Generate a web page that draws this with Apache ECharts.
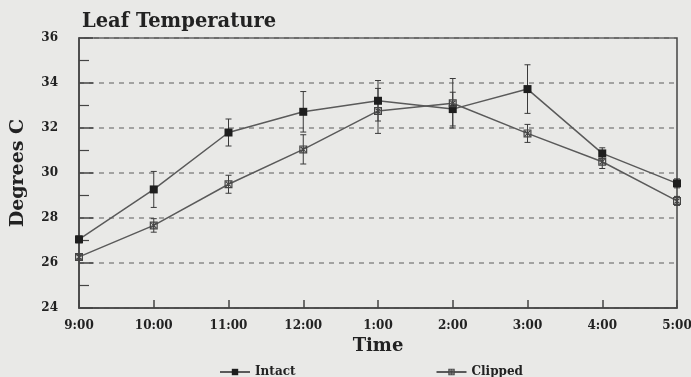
<!DOCTYPE html>
<html><head><meta charset="utf-8">
<script src="https://cdn.jsdelivr.net/npm/echarts@6/dist/echarts.min.js"></script>
<style>html,body{margin:0;padding:0;background:#e9e9e7}#c{width:691px;height:377px}</style>
</head><body><div id="c"></div>
<script>
var times = ['9:00','10:00','11:00','12:00','1:00','2:00','3:00','4:00','5:00'];
var intact = [27.05, 29.27, 31.8, 32.72, 33.21, 32.84, 33.73, 30.87, 29.54];
var intactErr = [0.15, 0.8, 0.6, 0.9, 0.9, 0.75, 1.08, 0.25, 0.2];
var clipped = [26.27, 27.67, 29.5, 31.05, 32.76, 33.1, 31.76, 30.5, 28.76];
var clippedErr = [0.1, 0.3, 0.4, 0.65, 1.0, 1.1, 0.4, 0.3, 0.2];
var yTicks = [24, 26, 28, 30, 32, 34, 36];

var FONT = '"DejaVu Serif", serif';
var clippedSym = 'path://M0 0H10V10H0Z M1.5 1.5V8.5H8.5V1.5Z M1.5 2.5L2.5 1.5L8.5 7.5L7.5 8.5Z M7.5 1.5L8.5 2.5L2.5 8.5L1.5 7.5Z M4.4 1.5H5.6V8.5H4.4Z';

function errData(vals, errs) {
  return vals.map(function (v, i) { return [i, v - errs[i], v + errs[i]]; });
}
function errRender(params, api) {
  var x = api.value(0);
  var lo = api.coord([x, api.value(1)]);
  var hi = api.coord([x, api.value(2)]);
  var w = 3;
  var st = { stroke: '#3a3a3a', lineWidth: 1 };
  return { type: 'group', children: [
    { type: 'line', shape: { x1: lo[0], y1: lo[1], x2: hi[0], y2: hi[1] }, style: st },
    { type: 'line', shape: { x1: lo[0] - w, y1: lo[1], x2: lo[0] + w, y2: lo[1] }, style: st },
    { type: 'line', shape: { x1: hi[0] - w, y1: hi[1], x2: hi[0] + w, y2: hi[1] }, style: st }
  ]};
}

var chart = echarts.init(document.getElementById('c'), null, { renderer: 'canvas' });
chart.setOption({
  backgroundColor: '#e9e9e7',
  animation: false,
  title: { text: 'Leaf Temperature', left: 82, top: 12, padding: 0,
    textStyle: { fontFamily: FONT, fontWeight: 'bold', fontSize: 19.5, color: '#222' } },
  grid: { left: 79, right: 14, top: 38, bottom: 69, containLabel: false, outerBoundsMode: 'none',
    show: true, borderColor: '#444', borderWidth: 1.5, backgroundColor: 'transparent' },
  legend: {
    left: 219, top: 366, padding: 0, itemWidth: 30, itemHeight: 8, itemGap: 140,
    textStyle: { fontFamily: FONT, fontWeight: 'bold', fontSize: 12, color: '#222' },
    data: ['Intact', 'Clipped']
  },
  xAxis: {
    type: 'category', data: times, boundaryGap: false,
    name: 'Time', nameLocation: 'middle', nameGap: 29,
    nameTextStyle: { fontFamily: FONT, fontWeight: 'bold', fontSize: 18, color: '#222' },
    axisLine: { lineStyle: { color: '#444', width: 1.5 } },
    axisTick: { inside: true, length: 8, lineStyle: { color: '#444', width: 1.5 } },
    axisLabel: { fontFamily: FONT, fontWeight: 'bold', fontSize: 12, color: '#222', margin: 12, interval: 0 },
    splitLine: { show: false }
  },
  yAxis: {
    type: 'value', min: 24, max: 36, interval: 2,
    name: 'Degrees C', nameLocation: 'middle', nameGap: 51, nameRotate: 90,
    nameTextStyle: { fontFamily: FONT, fontWeight: 'bold', fontSize: 19, color: '#222' },
    axisLine: { show: true, lineStyle: { color: '#444', width: 1.5 } },
    axisTick: { show: true, inside: true, length: 14, lineStyle: { color: '#444', width: 1.5 } },
    minorTick: { show: true, splitNumber: 2, length: 10, lineStyle: { color: '#444', width: 1.2 } },
    axisLabel: { fontFamily: FONT, fontWeight: 'bold', fontSize: 12, color: '#222', margin: 21, padding: [4, 0, 0, 0],
      formatter: function (v) { return yTicks.indexOf(v) >= 0 ? String(v) : ''; } },
    splitLine: { show: true, lineStyle: { color: '#8a8a8a', width: 1.5, type: [5, 5] } }
  },
  series: [
    { name: 'Intact', type: 'line', data: intact, symbol: 'rect', symbolSize: 8,
      lineStyle: { color: '#5a5a5a', width: 1.5 }, itemStyle: { color: '#1e1e1e' }, z: 4 },
    { name: 'Clipped', type: 'line', data: clipped, symbol: clippedSym, symbolSize: 8,
      lineStyle: { color: '#5a5a5a', width: 1.5 }, itemStyle: { color: '#444' }, z: 4 },
    { type: 'custom', data: errData(intact, intactErr), renderItem: errRender, encode: { x: 0, y: [1, 2] }, z: 3, silent: true },
    { type: 'custom', data: errData(clipped, clippedErr), renderItem: errRender, encode: { x: 0, y: [1, 2] }, z: 3, silent: true }
  ]
});
</script></body></html>
